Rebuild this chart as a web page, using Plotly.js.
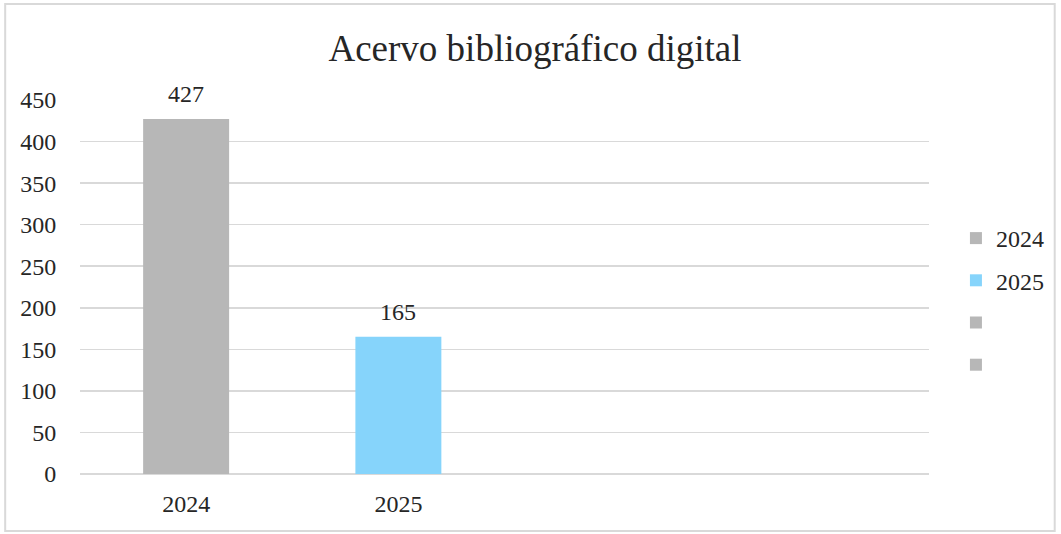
<!DOCTYPE html>
<html>
<head>
<meta charset="utf-8">
<script src="https://cdn.plot.ly/plotly-3.0.1.min.js"></script>
<style>
html,body{margin:0;padding:0;background:#fff;}
#chart{width:1061px;height:534px;}
</style>
</head>
<body>
<div id="chart"></div>
<script>
const categories = ["2024", "2025", "", ""];
const values = [427, 165, null, null];
const legendNames = ["2024", "2025", " ", "  "];
const colors = ["#b7b7b7", "#86d4fb", "#b7b7b7", "#b7b7b7"];
const yTicks = [0, 50, 100, 150, 200, 250, 300, 350, 400, 450];

const FONT = "Liberation Serif";
const TXT = "#262626";

const positions = categories.map((c, i) => i);

const traces = categories.map((c, i) => ({
  type: "bar",
  x: [positions[i]],
  y: [values[i] == null ? 0 : values[i]],
  width: 0.405,
  name: legendNames[i],
  legendgroup: "g" + i,
  marker: {color: colors[i]},
  hoverinfo: "skip"
}));

const annotations = categories.map((c, i) => values[i] == null ? null : ({
  x: positions[i], y: values[i], xref: "x", yref: "y",
  text: String(values[i]), showarrow: false,
  yanchor: "bottom", yshift: 10,
  font: {family: FONT, size: 24, color: TXT}
})).filter(a => a);

const L = 80, R = 130, T = 100, B = 60, W = 1061, H = 534;
const pw = W - L - R, ph = H - T - B;

const layout = {
  width: W, height: H,
  margin: {l: L, r: R, t: T, b: B, pad: 0},
  paper_bgcolor: "#ffffff",
  plot_bgcolor: "#ffffff",
  barmode: "overlay",
  font: {family: FONT, size: 24, color: TXT},
  title: {
    text: "Acervo bibliográfico digital",
    font: {family: FONT, size: 37, color: TXT},
    x: 535 / W, xref: "container", xanchor: "center",
    y: 1 - 48 / H, yref: "container", yanchor: "middle"
  },
  xaxis: {
    type: "linear",
    range: [-0.5, categories.length - 0.5],
    tickvals: positions,
    ticktext: categories,
    showgrid: false, zeroline: false, showline: false,
    ticks: "outside", ticklen: 8, tickcolor: "rgba(0,0,0,0)",
    tickfont: {family: FONT, size: 24, color: TXT},
    fixedrange: true
  },
  yaxis: {
    range: [0, 450],
    tickvals: yTicks,
    ticktext: yTicks.map(String),
    showgrid: true, gridcolor: "#d9d9d9", gridwidth: 1.5,
    zeroline: true, zerolinecolor: "#d9d9d9", zerolinewidth: 1.5,
    showline: false,
    ticks: "outside", ticklen: 18, tickcolor: "rgba(0,0,0,0)",
    tickfont: {family: FONT, size: 24, color: TXT},
    fixedrange: true
  },
  showlegend: true,
  legend: {
    x: (958 - L) / pw, xanchor: "left",
    y: (H - B - 301.5) / ph, yanchor: "middle", yref: "paper",
    font: {family: FONT, size: 24, color: TXT},
    itemwidth: 30,
    tracegroupgap: 8,
    bgcolor: "rgba(0,0,0,0)",
    borderwidth: 0
  },
  annotations: annotations,
  shapes: [{
    type: "rect", xref: "paper", yref: "paper",
    x0: (5 - L) / pw, x1: (1057 - L) / pw,
    y0: (H - B - 531) / ph, y1: (H - B - 4) / ph,
    line: {color: "#d9d9d9", width: 2}, fillcolor: "rgba(0,0,0,0)",
    layer: "below"
  }]
};

Plotly.newPlot("chart", traces, layout, {staticPlot: true, displayModeBar: false});
</script>
</body>
</html>
